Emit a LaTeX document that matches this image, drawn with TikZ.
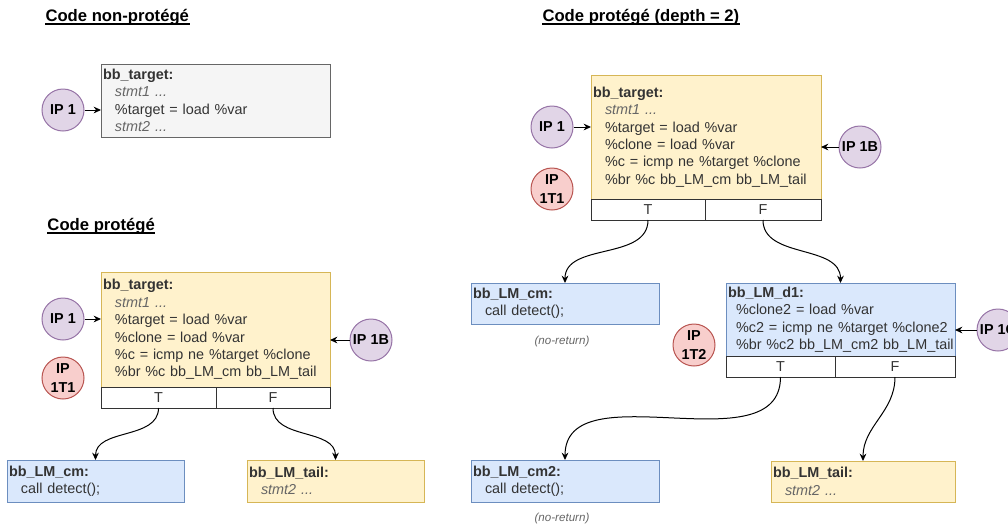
\documentclass[tikz,border=0pt]{standalone}
\usepackage{fontspec}
\setmainfont{Liberation Sans}
\usetikzlibrary{arrows.meta,positioning}

\definecolor{gryfill}{HTML}{F5F5F5}
\definecolor{grydraw}{HTML}{666666}
\definecolor{ylwfill}{HTML}{FFF2CC}
\definecolor{ylwdraw}{HTML}{D6B656}
\definecolor{bluefill}{HTML}{DAE8FC}
\definecolor{bluedraw}{HTML}{6C8EBF}
\definecolor{purfill}{HTML}{E1D5E7}
\definecolor{purdraw}{HTML}{9673A6}
\definecolor{redfill}{HTML}{F8CECC}
\definecolor{reddraw}{HTML}{B85450}
\definecolor{txt}{HTML}{333333}

\newcommand{\ind}{\hspace*{9pt}}
\newcommand{\stmt}[1]{{\itshape\color{grydraw}#1}}

\begin{document}
\begin{tikzpicture}[x=0.75pt,y=-0.75pt,>={Stealth[length=5.5pt,width=5pt]},line width=0.75pt]
  \tikzstyle{every node}=[font=\fontsize{10.8}{13.1}\selectfont, text=txt]
  \tikzstyle{title}=[anchor=west, inner sep=0pt, text=black, font=\bfseries\fontsize{12.5}{14}\selectfont]
  \tikzstyle{bb}=[draw, rectangle, anchor=north west, align=left, inner xsep=1.5pt, inner ysep=0pt, outer sep=0pt]
  \tikzstyle{cell}=[draw=txt, fill=white, anchor=north west, minimum height=15.75pt, inner sep=0pt, outer sep=0pt]
  \tikzstyle{ip}=[circle, minimum size=31.5pt, inner sep=0pt, align=center, text=black, font=\bfseries\fontsize{10.8}{14}\selectfont]
  \tikzstyle{ipp}=[ip, fill=purfill, draw=purdraw]
  \tikzstyle{ipr}=[ip, fill=redfill, draw=reddraw]
  \tikzstyle{noret}=[text=grydraw, font=\itshape\fontsize{8.7}{10}\selectfont]

  \useasboundingbox (0,0) rectangle (1008,526);

  % titles
  \node[title] (t1) at (45,17) {Code non-protégé};
  \node[title] (t2) at (47,226) {Code protégé};
  \node[title] (t3) at (542,17) {Code protégé (depth = 2)};
  \foreach \t in {t1,t2,t3}
    \draw[line width=0.8pt] ([yshift=-2pt]\t.base west) -- ([yshift=-2pt]\t.base east);

  % code non-protege
  \node[bb, fill=gryfill, draw=grydraw, text width=168.75pt, minimum height=54.75pt] (A) at (101,64)
    {\textbf{bb\_target:}\\ \ind\stmt{stmt1 ...}\\ \ind\%target = load \%var\\ \ind\stmt{stmt2 ...}};
  \node[ipp] (a1) at (63,110) {IP 1};

  % code protege
  \node[bb, fill=ylwfill, draw=ylwdraw, text width=168.75pt, minimum height=86.25pt] (B) at (101,272)
    {\textbf{bb\_target:}\\ \ind\stmt{stmt1 ...}\\ \ind\%target = load \%var\\ \ind\%clone = load \%var\\
     \ind\%c = icmp ne \%target \%clone\\ \ind\%br \%c bb\_LM\_cm bb\_LM\_tail};
  \node[cell, minimum width=86.25pt] (BT) at (B.south west) {T};
  \node[cell, minimum width=85.5pt] (BF) at (BT.north east) {F};
  \node[bb, fill=bluefill, draw=bluedraw, text width=129.75pt, minimum height=31.5pt] (Bcm) at (7,460)
    {\textbf{bb\_LM\_cm:}\\ \ind call detect();};
  \node[bb, fill=ylwfill, draw=ylwdraw, text width=129.75pt, minimum height=31.5pt] (Btail) at (247,460)
    {\textbf{bb\_LM\_tail:}\\ \ind\stmt{stmt2 ...}};
  \node[ipp] (b1) at (63,319) {IP 1};
  \node[ipr] (bT) [below=12pt of b1] {IP\\1T1};
  \node[ipp] (bB) at (371,340) {IP 1B};

  % code protege (depth = 2)
  \node[bb, fill=ylwfill, draw=ylwdraw, text width=169.5pt, minimum height=93pt] (C) at (591,75)
    {\textbf{bb\_target:}\\ \ind\stmt{stmt1 ...}\\ \ind\%target = load \%var\\ \ind\%clone = load \%var\\
     \ind\%c = icmp ne \%target \%clone\\ \ind\%br \%c bb\_LM\_cm bb\_LM\_tail};
  \node[cell, minimum width=85.5pt] (CT) at (C.south west) {T};
  \node[cell, minimum width=87pt] (CF) at (CT.north east) {F};
  \node[bb, fill=bluefill, draw=bluedraw, text width=138pt, minimum height=30.75pt] (Ccm) at (471,283)
    {\textbf{bb\_LM\_cm:}\\ \ind call detect();};
  \node[noret] (nr1) at (562,341) {(no-return)};
  \node[bb, fill=bluefill, draw=bluedraw, text width=168.75pt, minimum height=54.75pt] (D) at (726,283)
    {\textbf{bb\_LM\_d1:}\\ \hspace*{6pt}\%clone2 = load \%var\\ \hspace*{6pt}\%c2 = icmp ne \%target \%clone2\\
     \hspace*{6pt}\mbox{\%br \%c2 bb\_LM\_cm2 bb\_LM\_tail}};
  \node[cell, minimum width=81.75pt] (DT) at (D.south west) {T};
  \node[cell, minimum width=90pt] (DF) at (DT.north east) {F};
  \node[bb, fill=bluefill, draw=bluedraw, text width=138pt, minimum height=31.5pt] (Ccmb) at (471,460)
    {\textbf{bb\_LM\_cm2:}\\ \ind call detect();};
  \node[noret] (nr2) at (562,518) {(no-return)};
  \node[bb, fill=ylwfill, draw=ylwdraw, text width=135pt, minimum height=30.75pt] (Ctail) at (771,461)
    {\textbf{bb\_LM\_tail:}\\ \ind\stmt{stmt2 ...}};
  \node[ipp] (c1) at (552,127) {IP 1};
  \node[ipr] (cT) [below=14.25pt of c1] {IP\\1T1};
  \node[ipp] (cB) at (860,147) {IP 1B};
  \node[ipr] (dT) at (694,345) {IP\\1T2};
  \node[ipp] (dC) at (998,330) {IP 1C};

  \path[->] (a1) edge (a1 -| A.west)
  (b1) edge (b1 -| B.west)
  (bB) edge (bB -| B.east)
  (c1) edge (c1 -| C.west)
  (cB) edge (cB -| C.east)
  (dC) edge (dC -| D.east)
  (BT) edge[out=-90,in=90] (Bcm.north)
  (BF) edge[out=-90,in=90] (Btail.north)
  (CT) edge[out=-90,in=90] (Ccm.north)
  (CF) edge[out=-90,in=90] (D.north)
  (DT) edge[out=-90,in=90] (Ccmb.north)
  (DF) edge[out=-90,in=90] (Ctail.north)
  ;
\end{tikzpicture}
\end{document}
